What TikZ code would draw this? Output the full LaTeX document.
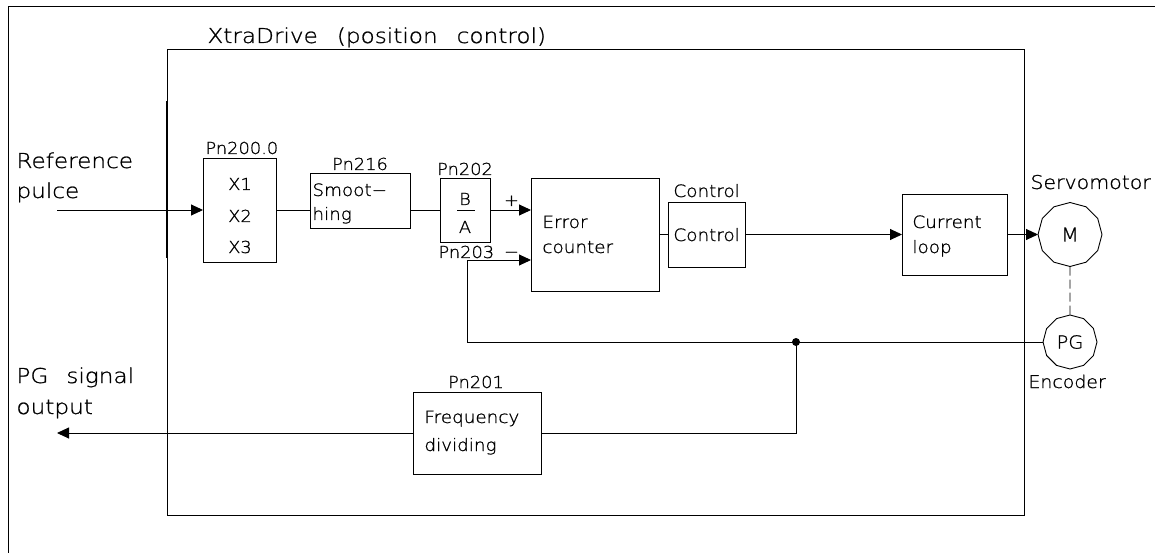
\documentclass[tikz,border=0pt]{standalone}
\usepackage{fontspec}
\setmainfont{DejaVu Sans ExtraLight}[FakeStretch=1.08,FakeBold=1]
\newfontfamily\bigfam{DejaVu Sans ExtraLight}[FakeStretch=1.13,FakeBold=1]
\usetikzlibrary{arrows.meta,shapes.geometric}
\newcommand\fbig{\bigfam\fontsize{20.5}{31}\selectfont}
\newcommand\fmid{\fontsize{17}{25}\selectfont}
\newcommand\fsm{\fontsize{16.5}{24}\selectfont}
\begin{document}
\begin{tikzpicture}[x=1pt,y=-1pt,
  line width=0.9pt,
  box/.style={draw, anchor=north west, inner sep=0pt, outer sep=0pt},
  txt/.style={inner sep=0pt, anchor=base west, font=\fmid},
  ctxt/.style={inner sep=0pt, anchor=base, font=\fsm},
  arr/.style={-{Triangle[length=12pt,width=11pt]}},
  poly/.style={draw, regular polygon, regular polygon sides=12, shape border rotate=15, inner sep=0pt, outer sep=0pt},
]
\useasboundingbox (0,0) rectangle (1155,553);
% outer frame
\draw (8,553) -- (8,6) -- (1155,6);
% drive box
\node[box, minimum width=857pt, minimum height=466pt] (XD) at (167,49) {};
\node[txt, font=\fbig] (title) at (207,43) {XtraDrive\hspace{19pt}(position\hspace{19pt}control)};
\draw[line width=2.2pt] (167,101) -- (167,258);
% left labels
\node[txt, font=\fbig] (ref1) at (16,168) {Reference};
\node[txt, font=\fbig] (ref2) at (16,198) {pulce};
\node[txt, font=\fbig] (pg1) at (16,383) {PG\hspace{18pt}signal};
\node[txt, font=\fbig] (pg2) at (16,414) {output};
% blocks
\node[box, minimum width=73pt, minimum height=104pt] (X) at (203,158) {};
\node[box, minimum width=100pt, minimum height=55pt] (S) at (310,173) {};
\node[box, minimum width=50pt, minimum height=64pt] (BA) at (440,178) {};
\node[box, minimum width=128pt, minimum height=113pt] (E) at (531,178) {};
\node[box, minimum width=77pt, minimum height=65pt] (C) at (668,202) {};
\node[box, minimum width=105pt, minimum height=81pt] (CL) at (902,194) {};
\node[box, minimum width=128pt, minimum height=82pt] (F) at (413,392) {};
\node[poly, minimum size=64pt, font=\fontsize{19}{19}\selectfont] (M) at (1070,234.5) {M};
\node[poly, minimum size=54pt, font=\fontsize{18}{18}\selectfont] (PG) at (1070,342) {PG};
\node[circle, fill, inner sep=0pt, minimum size=8pt] (dot) at (796,342) {};
% block texts
\node[txt, font=\fsm] (l200) at (205,154) {Pn200.0};
\node[ctxt] (x1) at (240,190) {X1};
\node[ctxt] (x2) at (240,222) {X2};
\node[ctxt] (x3) at (240,253) {X3};
\node[ctxt] (l216) at (360,170) {Pn216};
\node[txt] (s1) at (312,196) {Smoot−};
\node[txt] (s2) at (312,220) {hing};
\node[ctxt] (l202) at (465,175) {Pn202};
\node[ctxt] (tb) at (465,205) {B};
\node[ctxt] (ta) at (465,233) {A};
\draw (457,210.5) -- (475,210.5);
\node[ctxt] (plus) at (511.5,206) {+};
\node[ctxt] (minus) at (511.5,257.5) {−};
\node[txt, font=\fsm] (l203) at (438,258) {Pn203};
\node[txt] (e1) at (542,228) {Error};
\node[txt] (e2) at (542,253) {counter};
\node[txt] (lc) at (673,197) {Control};
\node[txt] (c1) at (673,241) {Control};
\node[txt] (cl1) at (912,228) {Current};
\node[txt] (cl2) at (912,253) {loop};
\node[txt, font=\fontsize{19}{19}\selectfont] (servo) at (1030,189) {Servomotor};
\node[txt, font=\fontsize{17.5}{18}\selectfont] (enc) at (1028,388) {Encoder};
\node[ctxt] (l201) at (476,388) {Pn201};
\node[txt] (f1) at (424,423) {Frequency};
\node[txt] (f2) at (424,451) {dividing};
% connectors
\coordinate (in) at (57,210);
\coordinate (out) at (57,433);
\coordinate (fb) at (467,260);
\draw[arr] (in) -- (X.west);
\draw (X.east) -- (X.east -| S.west);
\draw (X.east -| S.east) -- (BA.west);
\draw[arr] (BA.east) -- (BA.east -| E.west);
\draw[arr] (PG.west) -- (PG.west -| fb) -- (fb) -- (fb -| E.west);
\draw (E.east) -- (C.west);
\draw[arr] (C.east) -- (CL.west);
\draw[arr] (CL.east) -- (M.west);
\draw[dash pattern=on 9pt off 4pt] (M.south) -- (PG.north);
\draw (dot.center) |- (F.east);
\draw[arr] (F.west) -- (out);
\end{tikzpicture}
\end{document}
